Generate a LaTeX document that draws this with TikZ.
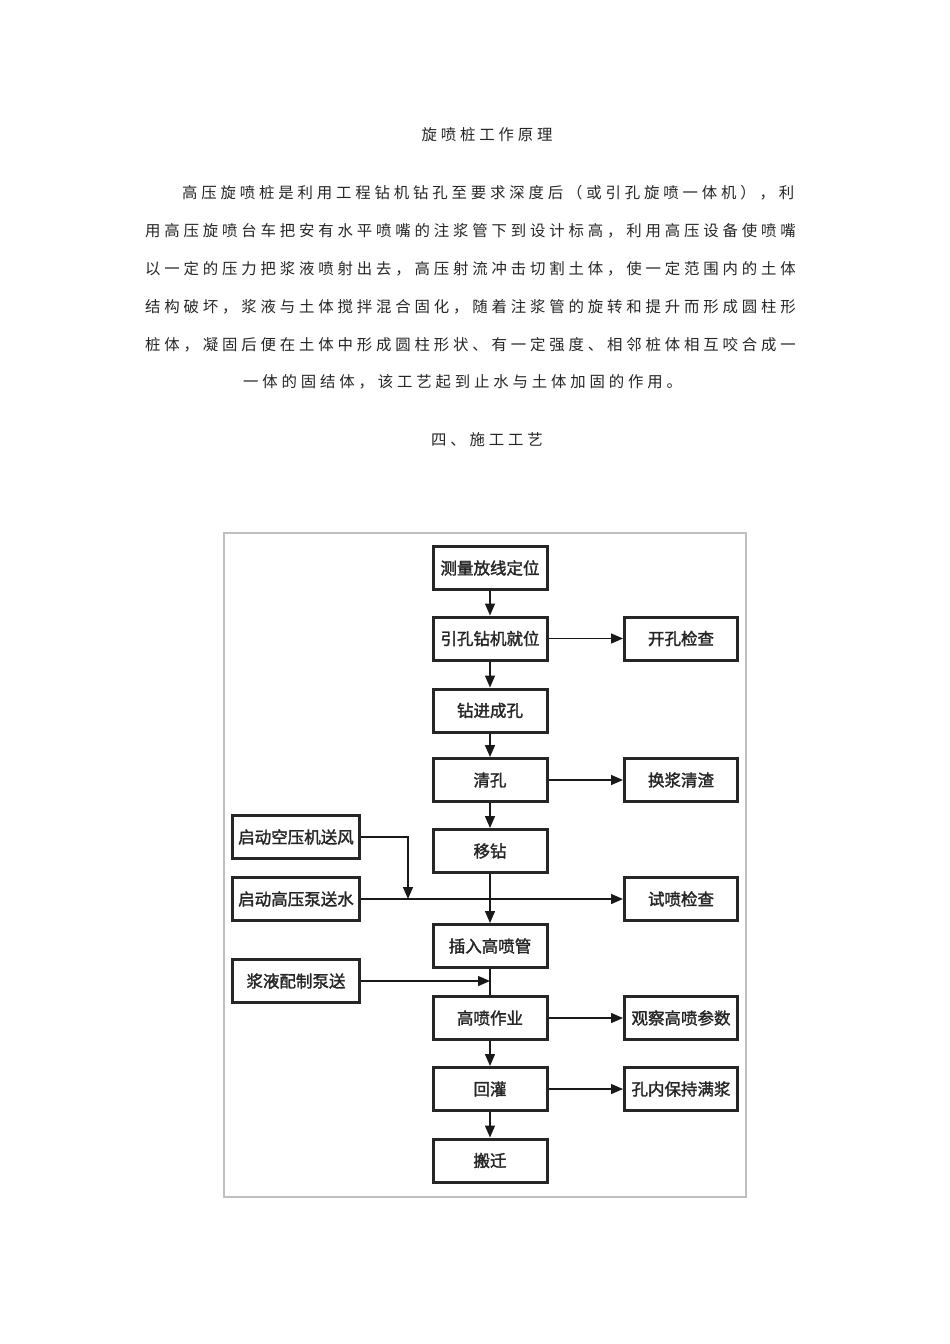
\documentclass[tikz,border=0pt]{standalone}
\usepackage{fontspec}
\setmainfont{Liberation Serif}
\newfontfamily\cjk[LetterSpace=25]{Noto Sans CJK SC}
\newfontfamily\cjkbox[FakeBold=1.8]{Noto Sans CJK SC}
\usetikzlibrary{arrows.meta}
\begin{document}
\begin{tikzpicture}[x=1pt,y=-1pt,
  txt/.style={inner sep=0pt,text=black!85,font=\cjk\fontsize{15.4}{15.4}\selectfont},
  box/.style={draw=black!85,line width=3pt,fill=white,inner sep=0pt,
    minimum height=43pt,font=\cjkbox\fontsize{16.5}{16.5}\selectfont,text=black!85},
  mainbox/.style={box,minimum width=114pt},
  rbox/.style={box,minimum width=113pt},
  lbox/.style={box,minimum width=127pt},
  arr/.style={line width=1.4pt,draw=black!90,-{Triangle[length=12pt,width=10pt]}},
  ln/.style={line width=1.4pt,draw=black!90},
  frame/.style={draw=black!25,line width=1.2pt}]
\useasboundingbox (0,0) rectangle (950,1344);
\fill[white] (0,0) rectangle (950,1344);
% text
\node[txt,anchor=center] (title) at (487,135) {旋喷桩工作原理};
\node[txt,anchor=west] (p1) at (182,193) {高压旋喷桩是利用工程钻机钻孔至要求深度后（或引孔旋喷一体机），利};
\node[txt,anchor=west] (p2) at (145,231) {用高压旋喷台车把安有水平喷嘴的注浆管下到设计标高，利用高压设备使喷嘴};
\node[txt,anchor=west] (p3) at (145,269) {以一定的压力把浆液喷射出去，高压射流冲击切割土体，使一定范围内的土体};
\node[txt,anchor=west] (p4) at (145,307) {结构破坏，浆液与土体搅拌混合固化，随着注浆管的旋转和提升而形成圆柱形};
\node[txt,anchor=west] (p5) at (145,345) {桩体，凝固后便在土体中形成圆柱形状、有一定强度、相邻桩体相互咬合成一};
\node[txt,anchor=west] (p6) at (243,382) {一体的固结体，该工艺起到止水与土体加固的作用。};
\node[txt,anchor=center] (sec) at (487,440) {四、施工工艺};
% frame
\draw[frame] (224,533) rectangle (746,1197);
% main column
\node[mainbox] (m1) at (490,568) {测量放线定位};
\node[mainbox] (m2) at (490,638.5) {引孔钻机就位};
\node[mainbox] (m3) at (490,710.5) {钻进成孔};
\node[mainbox] (m4) at (490,780) {清孔};
\node[mainbox] (m5) at (490,851) {移钻};
\node[mainbox] (m6) at (490,946) {插入高喷管};
\node[mainbox] (m7) at (490,1018) {高喷作业};
\node[mainbox] (m8) at (490,1089) {回灌};
\node[mainbox] (m9) at (490,1160.5) {搬迁};
% right column
\node[rbox] (r1) at (681,638.5) {开孔检查};
\node[rbox] (r2) at (681,780) {换浆清渣};
\node[rbox] (r3) at (681,899) {试喷检查};
\node[rbox] (r4) at (681,1018) {观察高喷参数};
\node[rbox] (r5) at (681,1089) {孔内保持满浆};
% left column
\node[lbox] (l1) at (296,837) {启动空压机送风};
\node[lbox] (l2) at (296,899) {启动高压泵送水};
\node[lbox] (l3) at (296,981) {浆液配制泵送};
% connectors
\draw[arr] (m1) -- (m2);
\draw[arr] (m2) -- (m3);
\draw[arr] (m3) -- (m4);
\draw[arr] (m4) -- (m5);
\draw[arr] (m5) -- (m6);
\draw[ln] (m6) -- (m7);
\draw[arr] (m7) -- (m8);
\draw[arr] (m8) -- (m9);
\draw[arr] (m2) -- (r1);
\draw[arr] (m4) -- (r2);
\draw[arr] (m7) -- (r4);
\draw[arr] (m8) -- (r5);
\coordinate (k1) at (408,837);
\coordinate (k2) at (408,899);
\draw[arr] (l1.east) -- (k1) -- (k2);
\draw[arr] (l2) -- (r3);
\coordinate (k3) at (490,981);
\draw[arr] (l3) -- (k3);
\end{tikzpicture}
\end{document}
